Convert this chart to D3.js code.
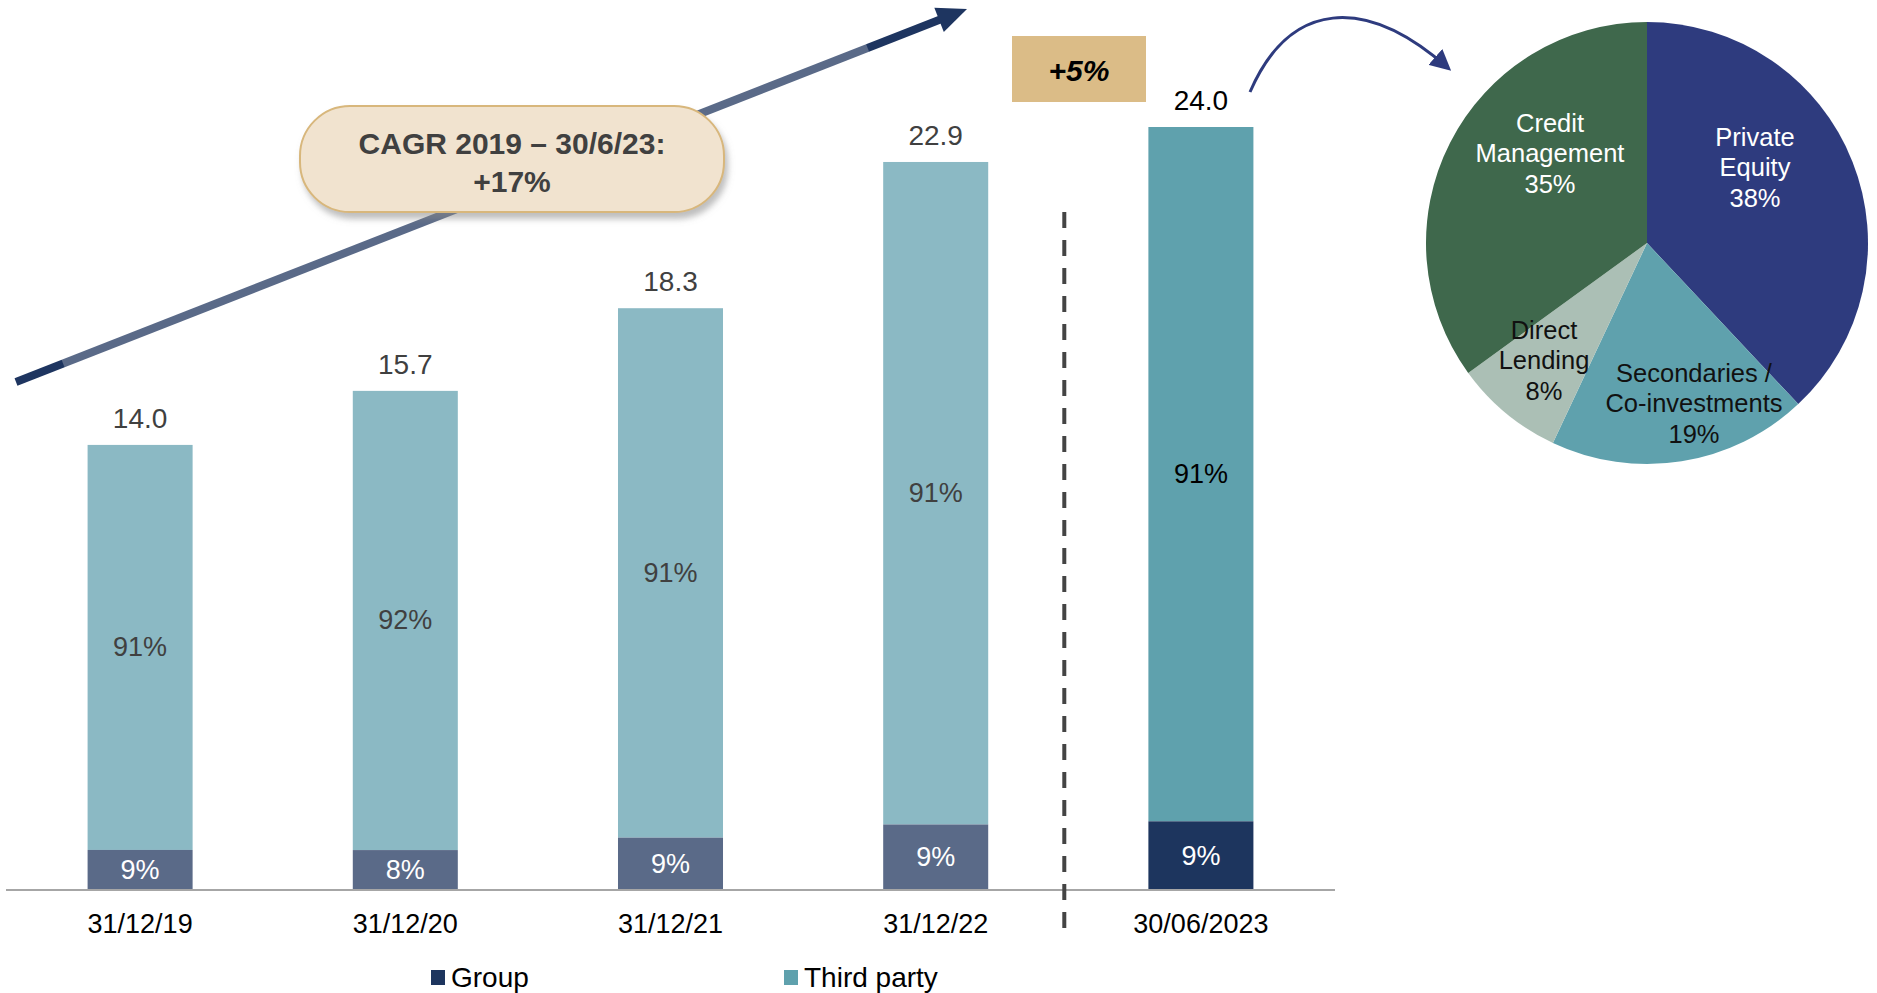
<!DOCTYPE html>
<html>
<head>
<meta charset="utf-8">
<script src="https://cdn.jsdelivr.net/npm/d3@7/dist/d3.min.js"></script>
<style>
  html, body { margin: 0; padding: 0; background: #fff; }
  svg { display: block; font-family: "Liberation Sans", Arial, Helvetica, sans-serif; }
</style>
</head>
<body>
<svg id="chart" width="1877" height="993"></svg>
<script>
// ---------- DATA ----------
const categories = ["31/12/19", "31/12/20", "31/12/21", "31/12/22", "30/06/2023"];
const totals = [14.0, 15.7, 18.3, 22.9, 24.0];
const groupPct = [9, 8, 9, 9, 9];
const thirdPartyPct = [91, 92, 91, 91, 91];
const legendLabels = ["Group", "Third party"];

const pieLabels = ["Private Equity", "Secondaries / Co-investments", "Direct Lending", "Credit Management"];
const pieValues = [38, 19, 8, 35];

const cagrText = ["CAGR 2019 \u2013 30/6/23:", "+17%"];
const growthText = "+5%";

// ---------- STYLE ----------
const colThirdLight = "#8bb9c4", colThirdDark = "#5fa1ad";
const colGroupLight = "#5a6a88", colGroupDark = "#1d355e";
const pieColors = ["#2e3b7e", "#5fa1ad", "#abbfb5", "#3f684c"];
const pieTextColors = ["#ffffff", "#111111", "#111111", "#ffffff"];
const labelGrey = "#404040";

const svg = d3.select("#chart");
const defs = svg.append("defs");

// ---------- SCALES ----------
const x = d3.scaleBand().domain(categories).range([7.5, 1333.5]).paddingInner(0.604).paddingOuter(0.302);
const y = d3.scaleLinear().domain([0, 24]).range([890, 127]);

const rows = categories.map((c, i) => {
  const g = totals[i] * groupPct[i] / 100;
  return { cat: c, total: totals[i], group: g, third: totals[i] - g, gp: groupPct[i], tp: thirdPartyPct[i], last: i === categories.length - 1 };
});

// ---------- BARS ----------
const bars = svg.append("g");
bars.selectAll("rect.third").data(rows).join("rect")
  .attr("x", d => x(d.cat)).attr("width", x.bandwidth())
  .attr("y", d => y(d.total)).attr("height", d => y(d.group) - y(d.total))
  .attr("fill", d => d.last ? colThirdDark : colThirdLight);
bars.selectAll("rect.group").data(rows).join("rect")
  .attr("x", d => x(d.cat)).attr("width", x.bandwidth())
  .attr("y", d => y(d.group)).attr("height", d => y(0) - y(d.group))
  .attr("fill", d => d.last ? colGroupDark : colGroupLight);

bars.selectAll("text.tp").data(rows).join("text")
  .attr("x", d => x(d.cat) + x.bandwidth() / 2)
  .attr("y", d => (y(d.total) + y(d.group)) / 2)
  .attr("text-anchor", "middle").attr("dominant-baseline", "central")
  .attr("font-size", 27).attr("fill", d => d.last ? "#000" : labelGrey)
  .text(d => d.tp + "%");
bars.selectAll("text.gp").data(rows).join("text")
  .attr("x", d => x(d.cat) + x.bandwidth() / 2)
  .attr("y", d => (y(d.group) + y(0)) / 2)
  .attr("text-anchor", "middle").attr("dominant-baseline", "central")
  .attr("font-size", 27).attr("fill", "#fff")
  .text(d => d.gp + "%");
bars.selectAll("text.tot").data(rows).join("text")
  .attr("x", d => x(d.cat) + x.bandwidth() / 2)
  .attr("y", d => y(d.total) - 17)
  .attr("text-anchor", "middle")
  .attr("font-size", 28).attr("fill", d => d.last ? "#000" : labelGrey)
  .text(d => d.total.toFixed(1));

// axis baseline
svg.append("line").attr("x1", 6).attr("x2", 1335).attr("y1", y(0)).attr("y2", y(0))
  .attr("stroke", "#a6a6a6").attr("stroke-width", 2);

// category labels via d3 axis
const xAxis = svg.append("g").attr("transform", `translate(0,${y(0)})`)
  .call(d3.axisBottom(x).tickSize(0).tickPadding(24));
xAxis.select(".domain").remove();
xAxis.selectAll("text").attr("font-size", 27).attr("fill", "#000")
  .attr("font-family", "'Liberation Sans', Arial, sans-serif");

// dashed separator between last two categories (slightly left of the gap centre)
const sepX = (x(categories[3]) + x.bandwidth() + x(categories[4])) / 2 - 4;
svg.append("line").attr("x1", sepX).attr("x2", sepX).attr("y1", 212).attr("y2", 928)
  .attr("stroke", "#444").attr("stroke-width", 4).attr("stroke-dasharray", "16,12");

// ---------- GROWTH ARROW ----------
const a0 = [16, 382], a1 = [967, 9];
const ang = Math.atan2(a1[1] - a0[1], a1[0] - a0[0]);
const headLen = 30, headHalf = 13;
const lineEnd = [a1[0] - (headLen - 4) * Math.cos(ang), a1[1] - (headLen - 4) * Math.sin(ang)];
const grad = defs.append("linearGradient").attr("id", "arrowGrad")
  .attr("gradientUnits", "userSpaceOnUse")
  .attr("x1", a0[0]).attr("y1", a0[1]).attr("x2", a1[0]).attr("y2", a1[1]);
[[0, "#1e3560"], [0.049, "#1e3560"], [0.05, "#5a6a88"], [0.895, "#5a6a88"], [0.896, "#1e3560"], [1, "#1e3560"]]
  .forEach(s => grad.append("stop").attr("offset", s[0]).attr("stop-color", s[1]));
svg.append("line").attr("x1", a0[0]).attr("y1", a0[1]).attr("x2", lineEnd[0]).attr("y2", lineEnd[1])
  .attr("stroke", "url(#arrowGrad)").attr("stroke-width", 8);
const hb = [a1[0] - headLen * Math.cos(ang), a1[1] - headLen * Math.sin(ang)];
const px = -Math.sin(ang), py = Math.cos(ang);
svg.append("polygon")
  .attr("points", [a1, [hb[0] + px * headHalf, hb[1] + py * headHalf], [hb[0] - px * headHalf, hb[1] - py * headHalf]].map(p => p.join(",")).join(" "))
  .attr("fill", "#1e3560");

// ---------- CAGR BUBBLE ----------
const shadow = defs.append("filter").attr("id", "shadow").attr("x", "-10%").attr("y", "-20%").attr("width", "130%").attr("height", "150%");
shadow.append("feDropShadow").attr("dx", 3).attr("dy", 6).attr("stdDeviation", 3)
  .attr("flood-color", "#888").attr("flood-opacity", 0.55);
svg.append("rect").attr("x", 300).attr("y", 106).attr("width", 424).attr("height", 106)
  .attr("rx", 50).attr("ry", 50)
  .attr("fill", "#f1e3cf").attr("stroke", "#d8b77c").attr("stroke-width", 2)
  .attr("filter", "url(#shadow)");
svg.selectAll("text.cagr").data(cagrText).join("text")
  .attr("x", 512).attr("y", (d, i) => 154 + i * 38)
  .attr("text-anchor", "middle").attr("font-size", 30).attr("font-weight", "bold")
  .attr("fill", labelGrey).text(d => d);

// ---------- +5% BOX ----------
svg.append("rect").attr("x", 1012).attr("y", 36).attr("width", 134).attr("height", 66).attr("fill", "#dbbc87");
svg.append("text").attr("x", 1079).attr("y", 81).attr("text-anchor", "middle")
  .attr("font-size", 30).attr("font-weight", "bold").attr("font-style", "italic").attr("fill", "#000")
  .text(growthText);

// ---------- CURVED ARROW ----------
defs.append("marker").attr("id", "curveHead").attr("viewBox", "0 0 10 10")
  .attr("refX", 8).attr("refY", 5).attr("markerWidth", 7).attr("markerHeight", 7)
  .attr("markerUnits", "strokeWidth").attr("orient", "auto")
  .append("path").attr("d", "M0,0 L10,5 L0,10 Z").attr("fill", "#2e3b7e");
svg.append("path").attr("d", "M1250,92 C1290,0 1365,-5 1448,68")
  .attr("fill", "none").attr("stroke", "#2e3b7e").attr("stroke-width", 3)
  .attr("marker-end", "url(#curveHead)");

// ---------- PIE ----------
const pc = [1647, 243], pr = 221;
const pieData = d3.pie().sort(null).value(d => d)(pieValues);
const arc = d3.arc().innerRadius(0).outerRadius(pr);
const pg = svg.append("g").attr("transform", `translate(${pc[0]},${pc[1]})`);
pg.selectAll("path").data(pieData).join("path")
  .attr("d", arc).attr("fill", (d, i) => pieColors[i]);

const pieLabelLayout = [
  { dx: 108, dy: -67, lines: ["Private", "Equity"] },
  { dx: 47, dy: 169, lines: ["Secondaries /", "Co-investments"] },
  { dx: -103, dy: 126, lines: ["Direct", "Lending"] },
  { dx: -97, dy: -81, lines: ["Credit", "Management"] }
];
pieData.forEach((d, i) => {
  const L = pieLabelLayout[i];
  const lines = L.lines.concat([pieValues[i] + "%"]);
  const t = pg.append("text").attr("text-anchor", "middle").attr("font-size", 25.5)
    .attr("fill", pieTextColors[i]);
  lines.forEach((ln, k) => {
    t.append("tspan").attr("x", L.dx).attr("y", L.dy + (k - 1) * 30.5).text(ln);
  });
});

// ---------- LEGEND ----------
const legendColors = [colGroupDark, colThirdDark];
const legendX = [431, 784];
const lg = svg.append("g");
legendLabels.forEach((lab, i) => {
  lg.append("rect").attr("x", legendX[i]).attr("y", 970).attr("width", 14).attr("height", 15).attr("fill", legendColors[i]);
  lg.append("text").attr("x", legendX[i] + 20).attr("y", 987).attr("font-size", 28).attr("fill", "#000").text(lab);
});
</script>
</body>
</html>
